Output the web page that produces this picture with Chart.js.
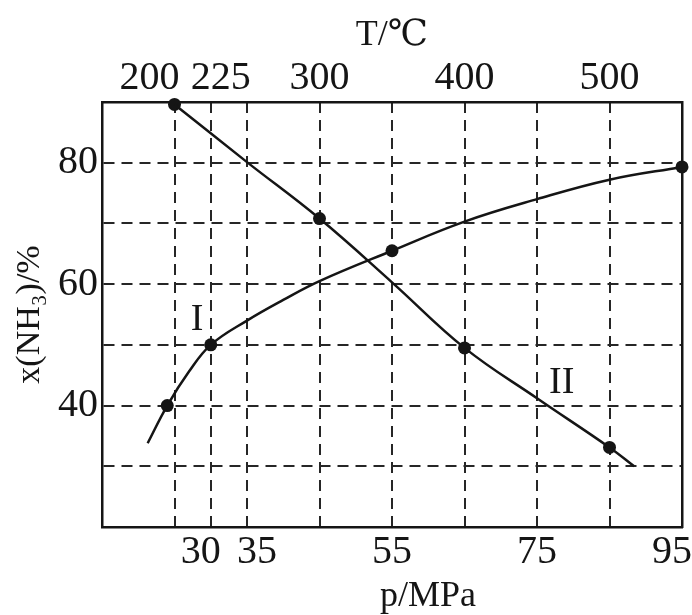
<!DOCTYPE html>
<html>
<head>
<meta charset="utf-8">
<style>
  html, body { margin: 0; padding: 0; background: #ffffff; }
  canvas { display: block; }
</style>
<script src="https://cdn.jsdelivr.net/npm/chart.js@4.4.1/dist/chart.umd.min.js"></script>
</head>
<body>
<canvas id="chart" width="692" height="615"></canvas>
<script>
// ---- data ----
// Curve I : x(NH3) vs pressure p (MPa, bottom axis)
const curveIPressure = [21.3, 24, 27, 30, 35, 40, 45, 55, 65, 75, 85, 95];
const curveIPercent  = [33.8, 40, 45.6, 50, 54, 57.4, 60.5, 65.5, 70.3, 74, 77.2, 79.3];
const curveIMarkPressure = [24, 30, 55, 95];
const curveIMarkPercent  = [40, 50, 65.5, 79.3];

// Curve II : x(NH3) vs temperature T (°C, top axis)
const curveIITemp    = [200, 250, 300, 350, 400, 450, 500, 517];
const curveIIPercent = [89.6, 80.1, 70.8, 60.3, 49.5, 41.2, 33.1, 30];
const curveIIMarkTemp    = [200, 300, 400, 500];
const curveIIMarkPercent = [89.6, 70.8, 49.5, 33.1];

// axes
const pressureGrid   = [15, 25, 30, 35, 45, 55, 65, 75, 85, 95];
const pressureLabels = [30, 35, 55, 75, 95];
const tempLabels     = [200, 225, 300, 400, 500];
const percentLabels  = [40, 60, 80];

// curve names, anchored in data units
const curveNames = ['I', 'II'];
const curveNameAxis = ['x', 'xT'];
const curveNameX = [28.1, 467];
const curveNameY = [54.1, 43.7];

// ---- styling ----
const FONT = '"Liberation Serif", "Times New Roman", "DejaVu Serif", serif';
const INK = '#151515';
const GRID = '#262626';
const DASH = [11, 7];
const EN = '\u2002';

const pts = (xs, ys) => xs.map((x, i) => ({ x: x, y: ys[i] }));

function pressureText(v) {
  if (!pressureLabels.includes(v)) return '';
  if (v === 30) return v + EN;
  if (v === 35) return EN + v;
  if (v === 95) return v + EN;
  return String(v);
}
function tempText(v) {
  if (!tempLabels.includes(v)) return '';
  if (v === 200) return v + EN + EN + ' ';
  if (v === 225) return EN + v;
  return String(v);
}

const curveNamePlugin = {
  id: 'curveNames',
  afterDatasetsDraw(chart) {
    const { ctx, scales } = chart;
    ctx.save();
    ctx.font = '38px ' + FONT;
    ctx.fillStyle = INK;
    ctx.textAlign = 'center';
    ctx.textBaseline = 'middle';
    curveNames.forEach((name, i) => {
      const px = scales[curveNameAxis[i]].getPixelForValue(curveNameX[i]);
      const py = scales.y.getPixelForValue(curveNameY[i]);
      ctx.fillText(name, px, py);
    });
    ctx.restore();
  }
};

const lineStyle = {
  borderColor: INK,
  borderWidth: 2.5,
  pointRadius: 0,
  fill: false,
  tension: 0.4,
  clip: false
};
const markStyle = {
  borderColor: INK,
  backgroundColor: INK,
  showLine: false,
  pointRadius: 6.5,
  pointBorderWidth: 0,
  clip: false
};

new Chart(document.getElementById('chart'), {
  type: 'line',
  data: {
    datasets: [
      Object.assign({ label: 'I', data: pts(curveIPressure, curveIPercent), xAxisID: 'x', yAxisID: 'y' }, lineStyle),
      Object.assign({ label: 'I points', data: pts(curveIMarkPressure, curveIMarkPercent), xAxisID: 'x', yAxisID: 'y' }, markStyle),
      Object.assign({ label: 'II', data: pts(curveIITemp, curveIIPercent), xAxisID: 'xT', yAxisID: 'y' }, lineStyle),
      Object.assign({ label: 'II points', data: pts(curveIIMarkTemp, curveIIMarkPercent), xAxisID: 'xT', yAxisID: 'y' }, markStyle)
    ]
  },
  options: {
    responsive: false,
    animation: false,
    devicePixelRatio: 1,
    layout: { padding: 0 },
    plugins: { legend: { display: false }, tooltip: { enabled: false } },
    scales: {
      x: {
        type: 'linear', position: 'bottom', min: 15, max: 95,
        afterBuildTicks: s => { s.ticks = pressureGrid.map(v => ({ value: v })); },
        afterFit: s => { s.height = 88; s.paddingLeft = 0; s.paddingRight = 0; },
        grid: { color: GRID, lineWidth: 2, drawTicks: false },
        border: { display: true, color: INK, width: 2.5, dash: DASH },
        ticks: {
          padding: 1, color: INK, autoSkip: false, maxRotation: 0,
          font: { family: FONT, size: 40 },
          callback: v => pressureText(v)
        },
        title: {
          display: true, text: EN + EN + EN + EN + 'p/MPa', color: INK,
          font: { family: FONT, size: 36, lineHeight: 1 },
          padding: { top: 0, bottom: 0 }
        }
      },
      xT: {
        type: 'linear', position: 'top', min: 150, max: 550,
        afterBuildTicks: s => { s.ticks = tempLabels.map(v => ({ value: v })); },
        afterFit: s => { s.height = 102; s.paddingLeft = 0; s.paddingRight = 0; },
        grid: { drawOnChartArea: false, drawTicks: false },
        border: { display: true, color: INK, width: 2.5 },
        ticks: {
          padding: 0, color: INK, autoSkip: false, maxRotation: 0,
          font: { family: FONT, size: 40 },
          callback: v => tempText(v)
        },
        title: {
          display: true, text: 'T/℃', color: INK,
          font: { family: FONT, size: 36, lineHeight: 1 },
          padding: { top: 18, bottom: 0 }
        }
      },
      y: {
        type: 'linear', position: 'left', min: 20, max: 90,
        afterFit: s => { s.width = 102; s.paddingTop = 0; s.paddingBottom = 0; },
        grid: { color: GRID, lineWidth: 2, drawTicks: false },
        border: { display: true, color: INK, width: 2.5, dash: DASH },
        ticks: {
          stepSize: 10, padding: 4, color: INK,
          font: { family: FONT, size: 40 },
          callback: v => (percentLabels.includes(v) ? String(v) : '')
        },
        title: {
          display: true, text: 'x(NH₃)/%', color: INK,
          font: { family: FONT, size: 34, lineHeight: 1 },
          padding: { top: 13, bottom: 0 }
        }
      },
      y2: {
        type: 'linear', position: 'right', min: 20, max: 90,
        afterFit: s => { s.width = 10; s.paddingTop = 0; s.paddingBottom = 0; },
        grid: { drawOnChartArea: false, drawTicks: false },
        border: { display: true, color: INK, width: 2.5 },
        ticks: { display: false }
      }
    }
  },
  plugins: [curveNamePlugin]
});
</script>
</body>
</html>
